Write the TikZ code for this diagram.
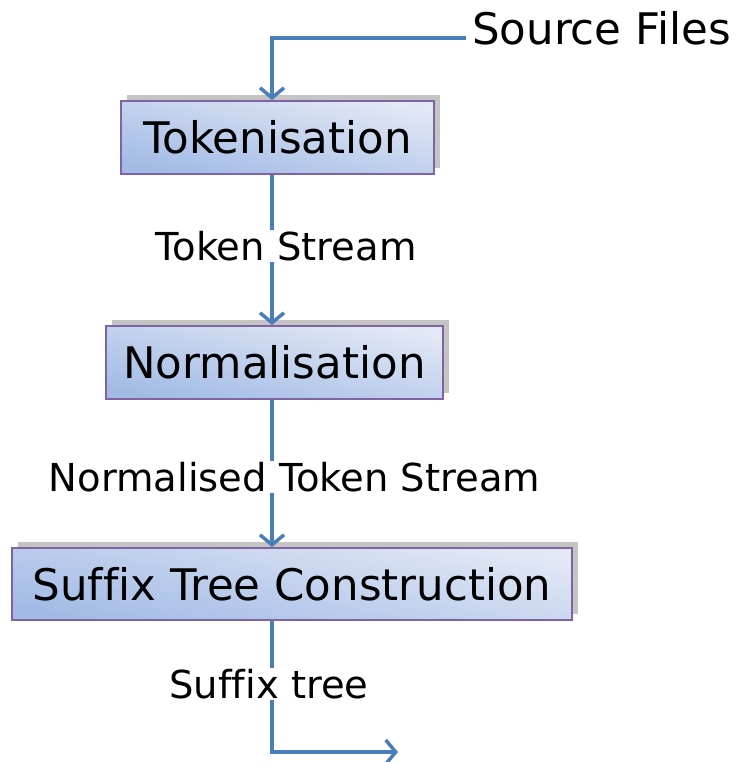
\documentclass[tikz,border=0pt]{standalone}
\usepackage{fontspec}
\setmainfont[Ligatures=NoCommon]{DejaVu Sans}
\usetikzlibrary{arrows.meta,shadows,calc}
\definecolor{flow}{HTML}{4A7EBB}
\definecolor{boxedge}{HTML}{8064A2}
\definecolor{boxlight}{HTML}{E2E8F5}
\definecolor{boxdark}{HTML}{A2BBE6}
\definecolor{shadowgray}{HTML}{C4C4C4}
\tikzset{
  stagebox/.style={draw=boxedge, line width=1.8pt, top color=boxlight, bottom color=boxdark, shading angle=-12,
    font=\fontsize{43.5}{50}\selectfont, inner sep=0pt,
    drop shadow={shadow xshift=6pt, shadow yshift=6pt, fill=shadowgray, opacity=1}},
  flowline/.style={draw=flow, line width=3.5pt},
  flowarrow/.style={flowline, -{Straight Barb[length=10pt,width=24pt,line width=3.5pt]}},
  flowlabel/.style={fill=white, inner sep=1pt, font=\fontsize{38.5}{44}\selectfont, anchor=base},
}
\begin{document}
\begin{tikzpicture}[x=1pt,y=-1pt]
\useasboundingbox (0,0) rectangle (736,762);
\coordinate (spine) at (272,0);
\node[stagebox, minimum width=313pt, minimum height=73pt] (tok) at (277.5,137.5) {Tokenisation};
\node[stagebox, minimum width=337pt, minimum height=73pt] (norm) at (274.5,362.5) {Normalisation};
\node[stagebox, minimum width=560pt, minimum height=72pt] (suf) at (292,584) {Suffix Tree Construction};
\node[font=\fontsize{43.5}{50}\selectfont, anchor=base west, inner sep=0pt] (src) at (472,45) {Source Files};
\coordinate (srcstart) at (466,38);
\coordinate (out) at (398,752);
\draw[flowarrow] (srcstart) -| (tok.north -| spine);
\draw[flowarrow] (tok.south -| spine) -- (norm.north -| spine);
\draw[flowarrow] (norm.south -| spine) -- (suf.north -| spine);
\draw[flowarrow] (suf.south -| spine) |- (out);
\node[flowlabel] (l1) at (286,260) {Token Stream};
\node[flowlabel] (l2) at (294.5,491) {Normalised Token Stream};
\node[flowlabel] (l3) at (269,698) {Suffix tree};
\end{tikzpicture}
\end{document}
